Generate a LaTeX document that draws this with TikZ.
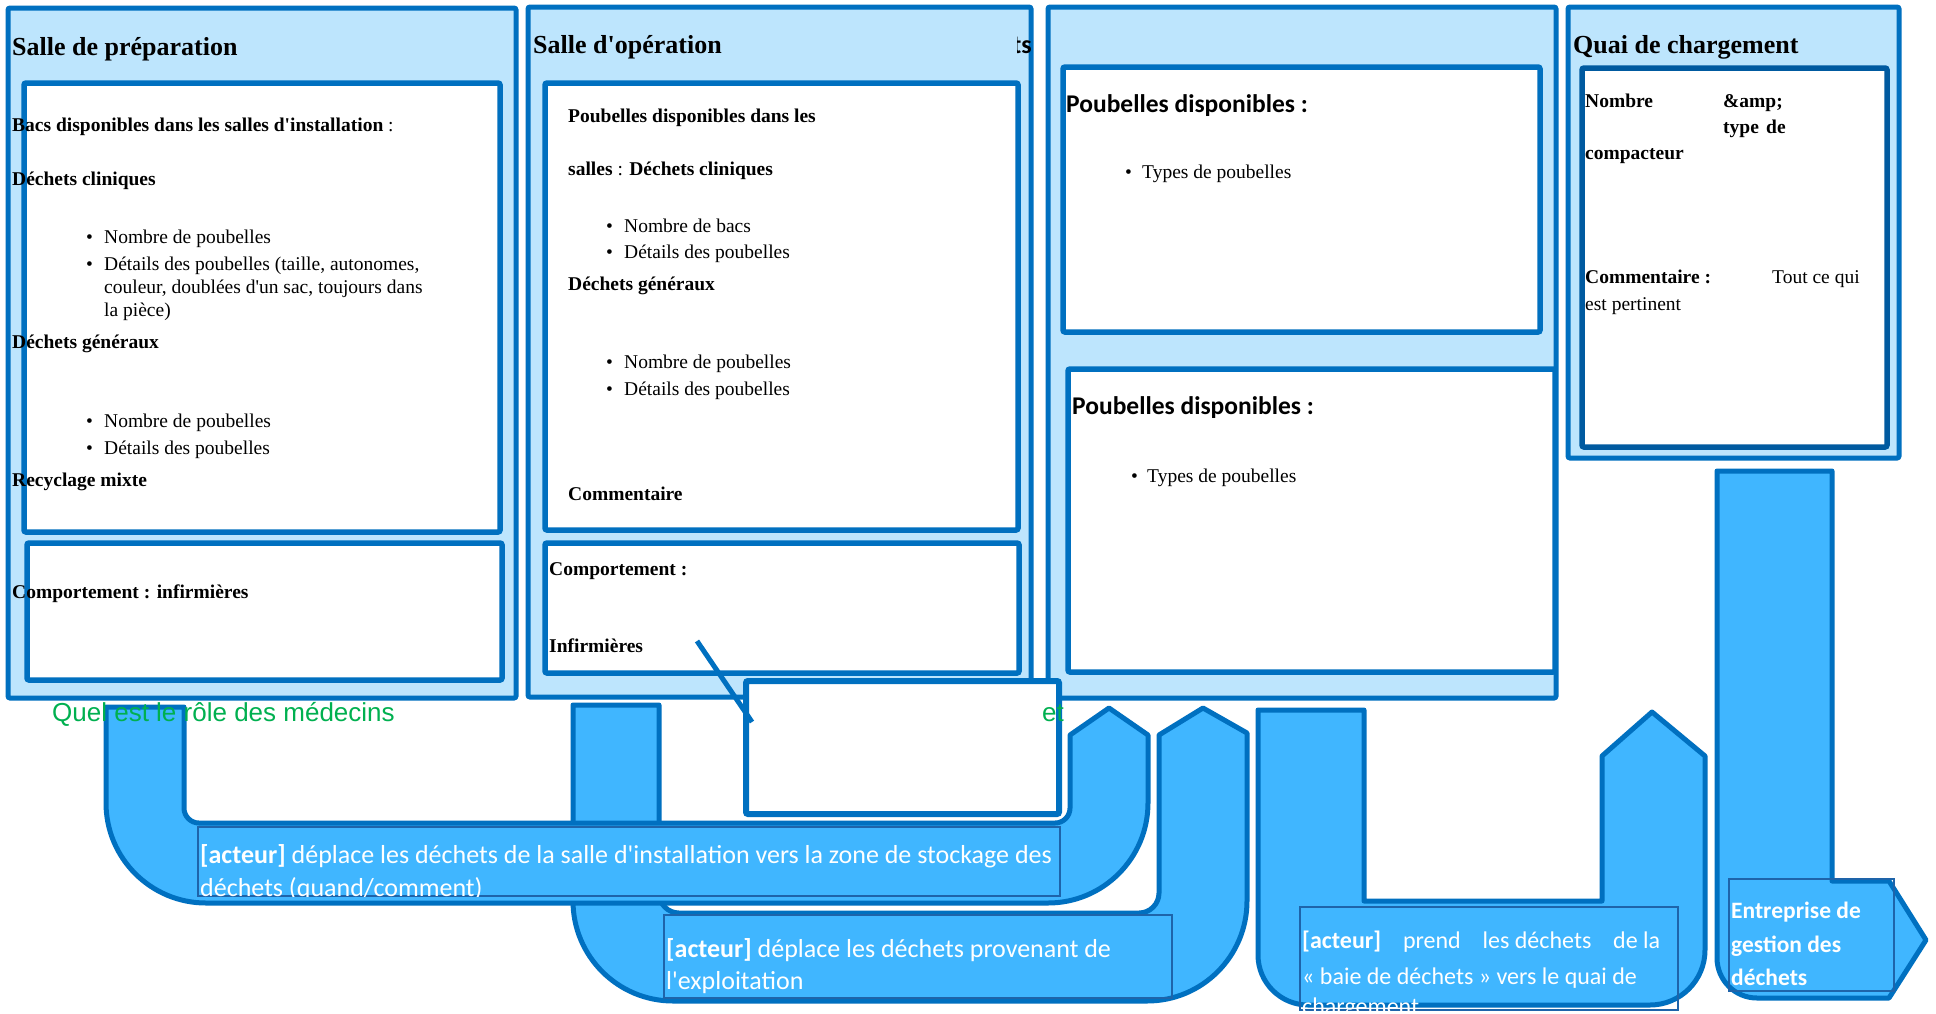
\documentclass[tikz,border=0pt]{standalone}
\usepackage{fontspec}
\setmainfont{Liberation Serif}
\newfontfamily\calfont{Carlito}
\newfontfamily\arialfont{Liberation Sans}
\newcommand\sq{\textquotesingle}
\definecolor{dblue}{RGB}{0,112,192}
\definecolor{lblue}{RGB}{189,229,253}
\definecolor{ablue}{RGB}{64,182,255}
\definecolor{tblue}{RGB}{30,100,170}
\definecolor{qblue}{RGB}{0,90,160}
\definecolor{qgreen}{RGB}{0,176,80}
\tikzset{
  panel/.style={draw=dblue, line width=5, fill=lblue, rounded corners=2},
  ibox/.style={draw=dblue, line width=5.5, fill=white, rounded corners=2},
  barrow/.style={draw=dblue, line width=5, fill=ablue, line join=round},
  tbox/.style={draw=tblue, line width=1.3},
  ttl/.style={anchor=base west, inner sep=0, font=\fontsize{26}{30}\selectfont\bfseries},
  bd/.style={anchor=base west, inner sep=0, font=\fontsize{19.5}{23}\selectfont\bfseries},
  rg/.style={anchor=base west, inner sep=0, font=\fontsize{19.5}{23}\selectfont},
  pd/.style={anchor=base west, inner sep=0, font=\calfont\fontsize{25.5}{30}\selectfont\bfseries},
  atx/.style={anchor=base west, inner sep=0, text=white, font=\calfont\fontsize{26}{32}\selectfont},
  atxc/.style={anchor=base west, inner sep=0, text=white, font=\calfont\fontsize{24}{30}\selectfont},
  atxd/.style={anchor=base west, inner sep=0, text=white, font=\calfont\fontsize{23.5}{30}\selectfont\bfseries},
  gr/.style={anchor=base west, inner sep=0, text=qgreen, font=\arialfont\fontsize{26}{30}\selectfont},
}
\begin{document}
\begin{tikzpicture}[x=1pt,y=-1pt]
\useasboundingbox[fill=white] (0,0) rectangle (1936,1013);

% ---------- Panel 1 : Salle de preparation
\draw[panel] (8,8) rectangle (516,698);
\draw[ibox] (24,83) rectangle (500,532);
\draw[ibox] (27,543) rectangle (502,680);
\node[ttl] (p1t) at (12,55) {Salle de préparation};
\node[rg] (p1a) at (12,131) {\textbf{Bacs disponibles dans les salles d\sq installation} :};
\node[bd] (p1b) at (12,185) {Déchets cliniques};
\node[rg] (p1c0) at (86,243) {•};
\node[rg] (p1c) at (104,243) {Nombre de poubelles};
\node[rg] (p1d0) at (86,270) {•};
\node[rg] (p1d1) at (104,270) {Détails des poubelles (taille, autonomes,};
\node[rg] (p1d2) at (104,293) {couleur, doublées d\sq un sac, toujours dans};
\node[rg] (p1d3) at (104,316) {la pièce)};
\node[bd] (p1e) at (12,348) {Déchets généraux};
\node[rg] (p1f0) at (86,427) {•};
\node[rg] (p1f) at (104,427) {Nombre de poubelles};
\node[rg] (p1g0) at (86,454) {•};
\node[rg] (p1g) at (104,454) {Détails des poubelles};
\node[bd] (p1h) at (12,486) {Recyclage mixte};
\node[bd] (p1i) at (12,598) {Comportement : infirmières};

% ---------- Panel 2 : Salle d'operation
\draw[panel] (528,7) rectangle (1031,697);
\draw[ibox] (545,83) rectangle (1018,530);
\draw[ibox] (545,543) rectangle (1019,673);
\node[ttl] (p2t) at (533,53) {Salle d\sq opération};
\node[bd] (p2a) at (568,122) {Poubelles disponibles dans les};
\node[rg] (p2b) at (568,175) {\textbf{salles} : \textbf{Déchets cliniques}};
\node[rg] (p2c0) at (606,232) {•};
\node[rg] (p2c) at (624,232) {Nombre de bacs};
\node[rg] (p2d0) at (606,258) {•};
\node[rg] (p2d) at (624,258) {Détails des poubelles};
\node[bd] (p2e) at (568,290) {Déchets généraux};
\node[rg] (p2f0) at (606,368) {•};
\node[rg] (p2f) at (624,368) {Nombre de poubelles};
\node[rg] (p2g0) at (606,395) {•};
\node[rg] (p2g) at (624,395) {Détails des poubelles};
\node[bd] (p2h) at (568,500) {Commentaire};
\node[bd] (p2i) at (549,575) {Comportement :};
\node[bd] (p2j) at (549,652) {Infirmières};
\begin{scope}
  \clip (1017,20) rectangle (1045,70);
  \node[anchor=base east, inner sep=0, font=\calfont\fontsize{26}{30}\selectfont\bfseries] (p3cut) at (1032,53) {ts};
\end{scope}

% ---------- Panel 3
\draw[panel] (1048,7) rectangle (1556,698);
\draw[ibox] (1063,67) rectangle (1540,332);
\draw[ibox] (1068,369) rectangle (1555,672);
\node[pd] (p3a) at (1066,112) {Poubelles disponibles :};
\node[rg] (p3b0) at (1125,178) {•};
\node[rg] (p3b) at (1142,178) {Types de poubelles};
\node[pd] (p3c) at (1072,414) {Poubelles disponibles :};
\node[rg] (p3d0) at (1131,482) {•};
\node[rg] (p3d) at (1147,482) {Types de poubelles};

% ---------- Panel 4 : Quai de chargement
\draw[panel] (1568,7) rectangle (1899,458);
\draw[ibox, draw=qblue] (1582,68) rectangle (1887,447);
\node[ttl] (p4t) at (1573,53) {Quai de chargement};
\node[bd] (p4a) at (1585,107) {Nombre};
\node[bd] (p4b) at (1723,107) {\&amp;};
\node[bd] (p4c) at (1723,133) {type};
\node[bd] (p4c2) at (1766,133) {de};
\node[bd] (p4d) at (1585,159) {compacteur};
\node[bd] (p4e) at (1585,283) {Commentaire :};
\node[rg] (p4f) at (1772,283) {Tout ce qui};
\node[rg] (p4g) at (1585,310) {est pertinent};

% ---------- Callout
\draw[draw=dblue, line width=6, fill=white, rounded corners=2] (746,681) rectangle (1059,814);
\coordinate (callsrc) at (697,641);
\coordinate (calltip) at (752,722);
\draw[dblue, line width=5] (callsrc) -- (calltip);

% ---------- Arrow 2 (behind arrow 1)
\draw[barrow] (573,705) -- (659,705) -- (659,893) .. controls (659,904) and (668,913) .. (679,913)
  -- (1139,913) .. controls (1150,913) and (1159,904) .. (1159,893) -- (1159,735) -- (1203,708)
  -- (1247,733) -- (1247,901) .. controls (1247,956.2) and (1202.2,1001) .. (1147,1001)
  -- (673,1001) .. controls (617.8,1001) and (573,956.2) .. (573,901) -- cycle;
% ---------- Arrow 1
\draw[barrow] (106,707) -- (184,707) -- (184,808) .. controls (184,816.3) and (190.7,823) .. (199,823)
  -- (1055,823) .. controls (1063.3,823) and (1070,816.3) .. (1070,808) -- (1070,735) -- (1109,708)
  -- (1148,735) -- (1148,803) .. controls (1148,858.2) and (1103.2,903) .. (1048,903)
  -- (206,903) .. controls (150.8,903) and (106,858.2) .. (106,803) -- cycle;
% ---------- Arrow 3
\draw[barrow] (1258,710) -- (1364,710) -- (1364,901) -- (1602,901) -- (1602,756) -- (1652,712)
  -- (1705,756) -- (1705,950) .. controls (1705,980.4) and (1680.4,1005) .. (1650,1005)
  -- (1308,1005) .. controls (1280.4,1005) and (1258,982.6) .. (1258,955) -- cycle;
% ---------- Arrow 4
\draw[barrow] (1717,471) -- (1832,471) -- (1832,881) -- (1889,881) -- (1926,940) -- (1889,998)
  -- (1757,998) .. controls (1734.9,998) and (1717,980.1) .. (1717,958) -- cycle;

% ---------- Arrow text boxes
\draw[tbox] (198,827) rectangle (1060,896);
\begin{scope}
  \clip (198,827) rectangle (1060,896);
  \node[atx] (a1l1) at (200,863) {\textbf{[acteur]} déplace les déchets de la salle d'installation vers la zone de stockage des};
  \node[atx] (a1l2) at (200,896) {déchets (quand/comment)};
\end{scope}
\draw[tbox] (664,915) rectangle (1172,998);
\node[atx] (a2l1) at (666,957) {\textbf{[acteur]} déplace les déchets provenant de};
\node[atx] (a2l2) at (666,989) {l'exploitation};
\draw[tbox] (1300,907) rectangle (1678,1010);
\begin{scope}
  \clip (1300,907) rectangle (1678,1012);
  \node[atxc] (a3l1) at (1302,948) {\hbox to 358pt{\textbf{[acteur]}\hfill prend\hfill les déchets\hfill de la}};
  \node[atxc] (a3l2) at (1302,984) {« baie de déchets » vers le quai de};
  \node[atxc] (a3l3) at (1302,1014) {chargement};
\end{scope}
\draw[tbox] (1729,879) rectangle (1894,991);
\node[atxd] (a4l1) at (1731,918) {Entreprise de};
\node[atxd] (a4l2) at (1731,952) {gestion des};
\node[atxd] (a4l3) at (1731,985) {déchets};

% ---------- Green notes
\node[gr] (q1) at (52,721) {Quel est le rôle des médecins};
\node[gr] (q2) at (1042,721) {et};
\end{tikzpicture}
\end{document}
